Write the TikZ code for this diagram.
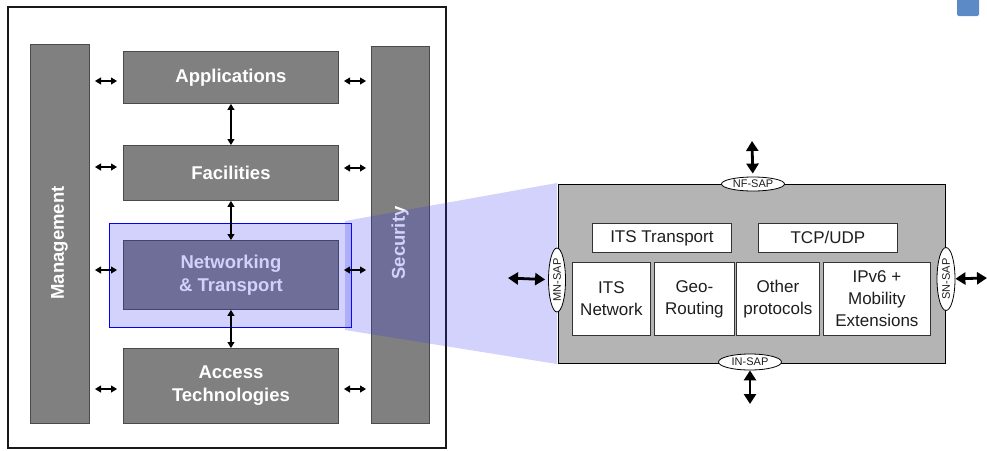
\documentclass[tikz,border=0pt]{standalone}
\usepackage{fontspec}
\setmainfont{Liberation Sans}
\usetikzlibrary{arrows.meta,shapes.geometric}

\definecolor{layergray}{HTML}{808080}
\definecolor{layeredge}{HTML}{4A4A4A}
\definecolor{panelgray}{HTML}{B4B4B4}
\definecolor{textdark}{HTML}{1E1E1E}
\definecolor{cornerblue}{HTML}{5B8AC6}
\definecolor{zoomblue}{HTML}{3030F0}

\begin{document}
\begin{tikzpicture}[x=1pt,y=-1pt,
  layerbox/.style={draw=layeredge,fill=layergray,line width=0.9pt,anchor=north west,
    inner sep=0pt,text=white,align=center,
    font=\bfseries\fontsize{18.5}{23}\selectfont},
  sidebar/.style={layerbox},
  barlabel/.style={text=white,font=\bfseries\fontsize{18.5}{23}\selectfont,rotate=90},
  link/.style={line width=1.1pt,{Triangle[length=6pt,width=7pt]}-{Triangle[length=6pt,width=7pt]}},
  protobox/.style={draw=black!80,fill=white,line width=0.8pt,anchor=north west,inner sep=0pt,
    text=textdark,align=center,font=\fontsize{17}{22}\selectfont},
  sap/.style={ellipse,draw=black,fill=white,line width=0.8pt,inner sep=0pt,
    text=textdark,font=\fontsize{11}{12}\selectfont},
  sapdouble/.style={line width=2.8pt,{Triangle[length=10pt,width=12pt]}-{Triangle[length=10pt,width=12pt]}},
  zoomfill/.style={fill=zoomblue,fill opacity=0.22}
]
\useasboundingbox (0,0) rectangle (987,450);

% outer frame of the stack
\draw[line width=2pt,black!90] (8,7) rectangle (446,448);

% side planes
\node[sidebar,minimum width=59pt,minimum height=379pt] (mgmt) at (30,44) {};
\node[barlabel] (mgmtlabel) at (59.5,243) {Management};
\node[sidebar,minimum width=58pt,minimum height=377pt] (sec) at (371,46) {};
\node[barlabel] (seclabel) at (400,243) {Security};

% protocol layers
\node[layerbox,minimum width=215pt,minimum height=52pt] (app) at (123,51) {\raisebox{-3pt}{Applications}};
\node[layerbox,minimum width=215pt,minimum height=55pt] (fac) at (123,145) {\raisebox{-2pt}{Facilities}};
\node[layerbox,minimum width=215pt,minimum height=69pt] (net) at (123,240) {Networking\\\& Transport};
\node[layerbox,minimum width=215pt,minimum height=75pt] (acc) at (123,348) {Access\\Technologies};

% highlighted layer and its zoom projection
\node[draw=blue,line width=1.4pt,zoomfill,anchor=north west,minimum width=242pt,minimum height=104pt,inner sep=0pt] (hl) at (109,223) {};
\fill[zoomfill] (345,221) -- (557,183) -- (557,364) -- (345,330) -- cycle;

% interfaces between layers
\draw[link] (app.south) -- (fac.north);
\draw[link] (fac.south) -- (net.north);
\draw[link] (net.south) -- (acc.north);

% interfaces to management and security planes
\coordinate (mA1) at (95,81);   \coordinate (mA2) at (117,81);
\coordinate (mF1) at (95,167);  \coordinate (mF2) at (117,167);
\coordinate (mN1) at (95,270);  \coordinate (mN2) at (117,270);
\coordinate (mT1) at (95,389);  \coordinate (mT2) at (117,389);
\coordinate (sA1) at (344,81);  \coordinate (sA2) at (366,81);
\coordinate (sF1) at (344,168); \coordinate (sF2) at (366,168);
\coordinate (sN1) at (344,270); \coordinate (sN2) at (366,270);
\coordinate (sT1) at (344,389); \coordinate (sT2) at (366,389);
\foreach \a/\b in {mA1/mA2,mF1/mF2,mN1/mN2,mT1/mT2,sA1/sA2,sF1/sF2,sN1/sN2,sT1/sT2}
  \draw[link] (\a) -- (\b);

% detail of the networking & transport layer
\node[draw=black,line width=1.2pt,fill=panelgray,anchor=north west,minimum width=387pt,minimum height=179pt,inner sep=0pt] (panel) at (558,184) {};

\node[protobox,minimum width=139pt,minimum height=29pt] (itstr) at (592,223) {ITS Transport};
\node[protobox,minimum width=139pt,minimum height=29pt] (tcp) at (758,223) {TCP/UDP};

\node[protobox,minimum width=78pt,minimum height=73pt] (itsnet) at (572,262) {ITS\\Network};
\node[protobox,minimum width=80pt,minimum height=73pt] (geo) at (654,262) {Geo-\\Routing};
\node[protobox,minimum width=83pt,minimum height=73pt] (other) at (736,262) {Other\\protocols};
\node[protobox,minimum width=107pt,minimum height=73pt] (ipv6) at (823,262) {IPv6 +\\Mobility\\Extensions};

% service access points
\node[sap,minimum width=63pt,minimum height=14pt] (nf) at (753,184) {NF-SAP};
\node[sap,minimum width=63pt,minimum height=16pt] (in) at (750,362) {IN-SAP};
\node[sap,minimum width=64pt,minimum height=17pt,rotate=90] (mn) at (557,280) {MN-SAP};
\node[sap,minimum width=63pt,minimum height=18pt,rotate=90] (sn) at (946,279) {SN-SAP};

\coordinate (nfout) at (752,141);
\coordinate (inout) at (750,404);
\coordinate (mnout) at (508,278);
\coordinate (snout) at (987,278);
\draw[sapdouble,shorten >=3pt] (nfout) -- (nf);
\draw[sapdouble] (in) -- (inout);
\draw[sapdouble,shorten >=3pt] (mnout) -- (mn);
\draw[sapdouble] (sn) -- (snout);

% corner tab
\fill[cornerblue,rounded corners=2pt] (957,-3) rectangle (979,16);
\end{tikzpicture}
\end{document}
